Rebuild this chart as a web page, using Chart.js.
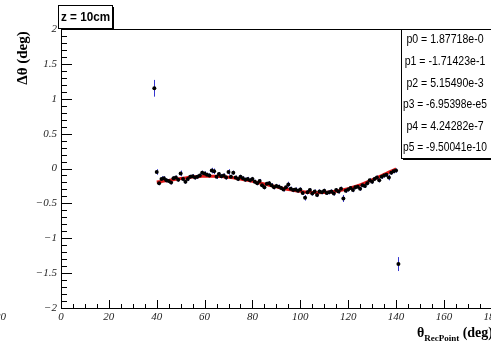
<!DOCTYPE html>
<html>
<head>
<meta charset="utf-8">
<script src="https://cdn.jsdelivr.net/npm/chart.js@4.4.0/dist/chart.umd.min.js"></script>
<style>
  html, body { margin: 0; padding: 0; background: #fff; overflow: hidden; }
  #wrap { width: 503px; height: 344px; }
</style>
</head>
<body>
<div id="wrap"><canvas id="thetaChart" width="503" height="344"></canvas></div>
<script>
// Residuals vs reconstructed polar angle, z = 10cm
var thetaValues = [40, 41, 42, 43, 44, 45, 46, 47, 48, 49,
  50, 51, 52, 53, 54, 55, 56, 57, 58, 59,
  60, 61, 62, 63, 64, 65, 66, 67, 68, 69,
  70, 71, 72, 73, 74, 75, 76, 77, 78, 79,
  80, 81, 82, 83, 84, 85, 86, 87, 88, 89,
  90, 91, 92, 93, 94, 95, 96, 97, 98, 99,
  100, 101, 102, 103, 104, 105, 106, 107, 108, 109,
  110, 111, 112, 113, 114, 115, 116, 117, 118, 119,
  120, 121, 122, 123, 124, 125, 126, 127, 128, 129,
  130, 131, 132, 133, 134, 135, 136, 137, 138, 139, 140];

var deltaTheta = [-0.05, -0.21, -0.15, -0.14, -0.17, -0.18, -0.20, -0.14, -0.13, -0.16,
  -0.07, -0.15, -0.19, -0.15, -0.12, -0.11, -0.13, -0.12, -0.10, -0.06,
  -0.07, -0.09, -0.10, -0.03, -0.04, -0.12, -0.08, -0.11, -0.10, -0.13,
  -0.05, -0.12, -0.06, -0.13, -0.15, -0.12, -0.14, -0.16, -0.15, -0.17,
  -0.15, -0.19, -0.21, -0.18, -0.24, -0.27, -0.22, -0.21, -0.24, -0.27,
  -0.25, -0.26, -0.28, -0.30, -0.27, -0.23, -0.29, -0.31, -0.30, -0.32,
  -0.30, -0.35, -0.42, -0.34, -0.31, -0.36, -0.33, -0.38, -0.33, -0.34,
  -0.32, -0.35, -0.34, -0.33, -0.36, -0.31, -0.33, -0.29, -0.43, -0.32,
  -0.30, -0.28, -0.31, -0.27, -0.26, -0.29, -0.24, -0.25, -0.21, -0.17,
  -0.19, -0.15, -0.13, -0.17, -0.12, -0.10, -0.09, -0.13, -0.06, -0.04, -0.03];

var deltaError = [0.04, 0.03, 0.04, 0.03, 0.03, 0.03, 0.03, 0.03, 0.03, 0.03,
  0.04, 0.03, 0.03, 0.03, 0.03, 0.03, 0.03, 0.03, 0.03, 0.03,
  0.03, 0.03, 0.03, 0.04, 0.04, 0.03, 0.03, 0.03, 0.03, 0.03,
  0.04, 0.03, 0.03, 0.03, 0.03, 0.03, 0.03, 0.03, 0.03, 0.03,
  0.03, 0.03, 0.03, 0.03, 0.03, 0.03, 0.03, 0.03, 0.03, 0.03,
  0.03, 0.03, 0.03, 0.03, 0.03, 0.04, 0.03, 0.03, 0.03, 0.03,
  0.03, 0.03, 0.04, 0.03, 0.03, 0.03, 0.03, 0.03, 0.03, 0.03,
  0.03, 0.03, 0.03, 0.03, 0.03, 0.03, 0.03, 0.03, 0.05, 0.03,
  0.03, 0.03, 0.03, 0.03, 0.03, 0.03, 0.03, 0.03, 0.03, 0.03,
  0.03, 0.03, 0.03, 0.03, 0.03, 0.03, 0.03, 0.04, 0.03, 0.03, 0.03];

// the two points far off the curve
var outlierTheta = [39, 141];
var outlierDelta = [1.15, -1.37];
var outlierError = [0.12, 0.10];

// pol5 fit parameters, p0..p5
var fitParams = [1.87718, -1.71423e-1, 5.15490e-3, -6.95398e-5, 4.24282e-7, -9.50041e-10];
var fitLabels = ['p0 = 1.87718e-0', 'p1 = -1.71423e-1', 'p2 = 5.15490e-3',
  'p3 = -6.95398e-e5', 'p4 = 4.24282e-7', 'p5 = -9.50041e-10'];

var xTickLabels = ['0', '20', '40', '60', '80', '100', '120', '140', '160', '180'];

function pol5(x) {
  var s = 0;
  for (var k = fitParams.length - 1; k >= 0; k--) s = s * x + fitParams[k];
  return s;
}

var pointData = thetaValues.map(function (t, i) { return { x: t, y: deltaTheta[i], e: deltaError[i] }; });
var outlierData = outlierTheta.map(function (t, i) { return { x: t, y: outlierDelta[i], e: outlierError[i] }; });
var fitData = thetaValues.map(function (t) { return { x: t, y: pol5(t) }; });

var serif = 'Liberation Serif';
var sans = 'Liberation Sans';

var rootFrame = {
  id: 'rootFrame',
  beforeDatasetsDraw: function (chart) {
    var xs = chart.scales.x, ys = chart.scales.y, ctx = chart.ctx;
    ctx.save();
    ctx.strokeStyle = '#3535d0';
    ctx.lineWidth = 1;
    pointData.concat(outlierData).forEach(function (p) {
      var px = Math.round(xs.getPixelForValue(p.x)) + 0.5;
      ctx.beginPath();
      ctx.moveTo(px, ys.getPixelForValue(p.y - p.e));
      ctx.lineTo(px, ys.getPixelForValue(p.y + p.e));
      ctx.stroke();
    });
    ctx.restore();
  },
  afterDraw: function (chart) {
    var xs = chart.scales.x, ys = chart.scales.y, ctx = chart.ctx, a = chart.chartArea;
    ctx.save();
    ctx.strokeStyle = '#000';
    ctx.lineWidth = 1;

    // frame
    ctx.strokeRect(a.left + 0.5, a.top + 0.5, a.right - a.left, a.bottom - a.top);

    // y ticks, inside the frame
    ctx.beginPath();
    for (var i = -20; i <= 20; i++) {
      var py = Math.round(ys.getPixelForValue(i / 10)) + 0.5;
      var len = (i % 5 === 0) ? 11 : 6;
      ctx.moveTo(a.left, py);
      ctx.lineTo(a.left + len, py);
    }
    // x ticks every 5 deg
    for (var j = 0; j <= 36; j++) {
      var px = Math.round(xs.getPixelForValue(j * 5)) + 0.5;
      var l = (j % 4 === 0) ? 8 : 4;
      ctx.moveTo(px, a.bottom);
      ctx.lineTo(px, a.bottom - l);
    }
    ctx.stroke();

    // fit parameter box
    var bx = 401, by = a.top, bw = 100, bh = 129;
    ctx.fillStyle = '#fff';
    ctx.fillRect(bx, by, bw, bh);
    ctx.strokeRect(bx + 0.5, by + 0.5, bw, bh);
    ctx.fillStyle = '#000';
    ctx.fillRect(bx + 2, by + bh, bw, 2);
    ctx.font = '12px ' + sans;
    ctx.textAlign = 'center';
    ctx.textBaseline = 'middle';
    fitLabels.forEach(function (txt, k) {
      var w = ctx.measureText(txt).width;
      // narrow the wide lines so they sit inside the box
      var sx = Math.min(0.88, 84 / w);
      ctx.save();
      ctx.translate(445, 40 + k * 21.6);
      ctx.scale(sx, 1.05);
      ctx.fillText(txt, 0, 0);
      ctx.restore();
    });

    // title box
    ctx.fillStyle = '#fff';
    ctx.fillRect(58, 5, 54, 23);
    ctx.strokeRect(58.5, 5.5, 54, 23);
    ctx.fillStyle = '#000';
    ctx.fillRect(112, 7, 2, 22);
    ctx.font = 'bold 13px ' + sans;
    ctx.textAlign = 'left';
    ctx.save();
    ctx.translate(61, 17);
    ctx.scale(0.9, 1);
    ctx.fillText('z = 10cm', 0, 0);
    ctx.restore();

    // y title
    ctx.save();
    ctx.translate(23, 58);
    ctx.rotate(-Math.PI / 2);
    ctx.textAlign = 'center';
    ctx.font = 'bold 15px ' + serif;
    ctx.fillText('\u0394\u03b8 (deg)', 0, 0);
    ctx.restore();

    // x title with subscript
    ctx.textBaseline = 'alphabetic';
    ctx.textAlign = 'left';
    var big = 'bold 14px ' + serif, small = 'bold 9px ' + serif;
    ctx.font = big;
    var w1 = ctx.measureText('\u03b8').width, w3 = ctx.measureText(' (deg)').width;
    ctx.font = small;
    var w2 = ctx.measureText('RecPoint').width;
    var sx0 = 493 - (w1 + w2 + w3);
    ctx.font = big;
    ctx.fillText('\u03b8', sx0, 337);
    ctx.font = small;
    ctx.fillText('RecPoint', sx0 + w1, 341);
    ctx.font = big;
    ctx.fillText(' (deg)', sx0 + w1 + w2, 337);

    // neighbouring pad's last label
    ctx.font = 'italic 11px ' + serif;
    ctx.textAlign = 'right';
    ctx.textBaseline = 'middle';
    ctx.fillStyle = '#222';
    ctx.fillText('180', 6, 317);
    ctx.restore();
  }
};

var ctx = document.getElementById('thetaChart').getContext('2d');
var thetaChart = new Chart(ctx, {
  type: 'scatter',
  data: {
    datasets: [{
      label: 'pol5 fit',
      type: 'line',
      data: fitData,
      borderColor: '#e41a1a',
      borderWidth: 3,
      pointRadius: 0,
      tension: 0,
      fill: false,
      order: 2
    }, {
      label: 'residuals',
      data: pointData,
      backgroundColor: '#000',
      borderColor: '#000',
      pointRadius: 2,
      borderWidth: 0,
      order: 1
    }, {
      label: 'outliers',
      data: outlierData,
      backgroundColor: '#000',
      borderColor: '#000',
      pointRadius: 2,
      borderWidth: 0,
      order: 1
    }]
  },
  options: {
    responsive: false,
    animation: false,
    layout: { padding: { top: 29, right: 10, left: 0, bottom: 0 } },
    scales: {
      x: {
        type: 'linear',
        min: 0,
        max: 180,
        afterFit: function (s) { s.height = 36; },
        grid: { display: false, drawTicks: false },
        border: { display: true, color: '#000', width: 1 },
        ticks: {
          stepSize: 20,
          padding: 3,
          autoSkip: false,
          maxRotation: 0,
          color: '#222',
          font: { family: serif, style: 'italic', size: 11 },
          callback: function (v) { return xTickLabels[Math.round(v / 20)]; }
        }
      },
      y: {
        type: 'linear',
        min: -2,
        max: 2,
        afterFit: function (s) { s.width = 61; },
        grid: { display: false, drawTicks: false },
        border: { display: true, color: '#000', width: 1 },
        ticks: {
          stepSize: 0.5,
          padding: 4,
          color: '#222',
          font: { family: serif, style: 'italic', size: 11 },
          callback: function (v) {
            var r = Math.round(v * 10) / 10;
            return String(r).replace('-', '\u2212');
          }
        }
      }
    },
    plugins: {
      legend: { display: false },
      tooltip: { enabled: false }
    }
  },
  plugins: [rootFrame]
});
</script>
</body>
</html>
